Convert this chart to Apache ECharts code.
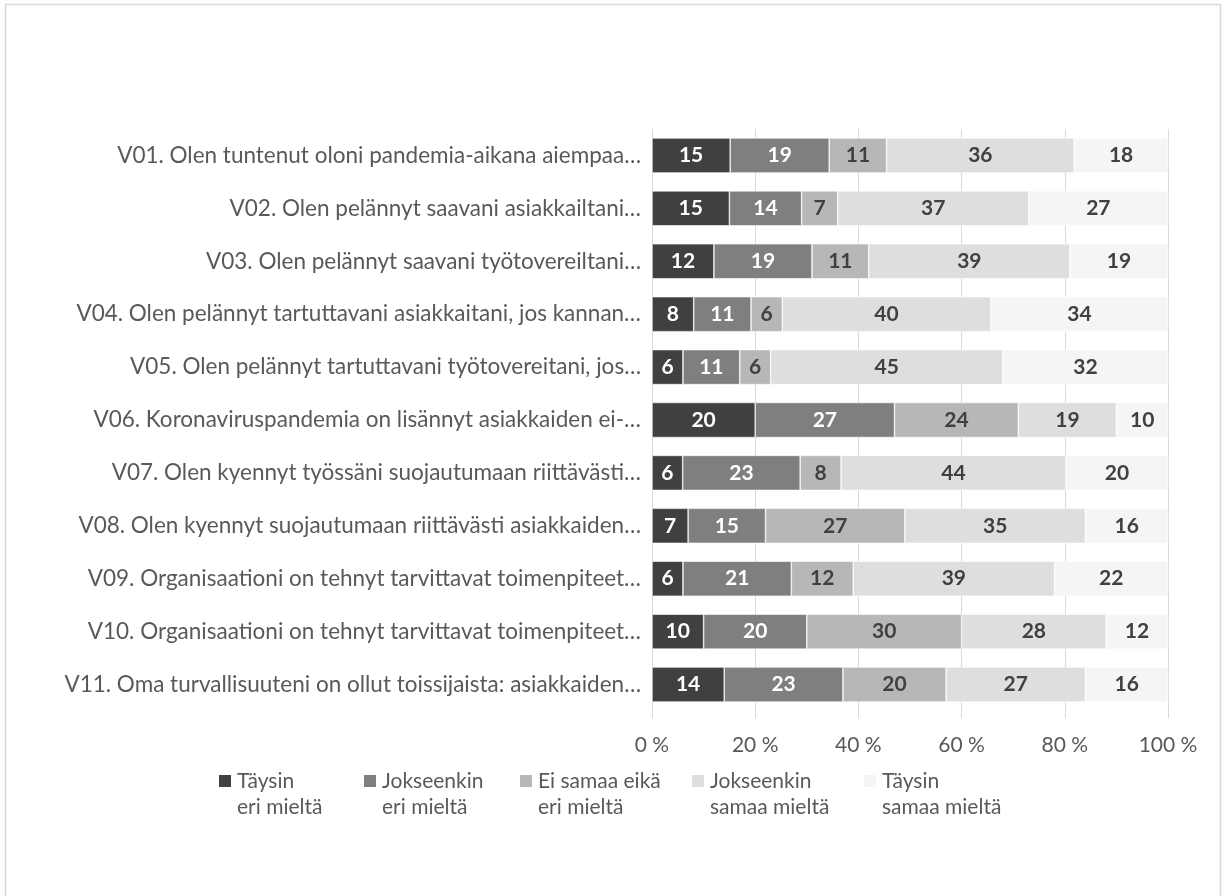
<!DOCTYPE html>
<html>
<head>
<meta charset="utf-8">
<script src="https://cdn.jsdelivr.net/npm/echarts@6/dist/echarts.min.js"></script>
<style>
  html, body { margin: 0; padding: 0; background: #ffffff; }
  #chart { width: 1224px; height: 896px; }
</style>
</head>
<body>
<div id="chart"></div>
<script>
// Survey statements (truncated as displayed)
const categories = [
  'V01. Olen tuntenut oloni pandemia-aikana aiempaa…',
  'V02. Olen pelännyt saavani asiakkailtani…',
  'V03. Olen pelännyt saavani työtovereiltani…',
  'V04. Olen pelännyt tartuttavani asiakkaitani, jos kannan…',
  'V05. Olen pelännyt tartuttavani työtovereitani, jos…',
  'V06. Koronaviruspandemia on lisännyt asiakkaiden ei-…',
  'V07. Olen kyennyt työssäni suojautumaan riittävästi…',
  'V08. Olen kyennyt suojautumaan riittävästi asiakkaiden…',
  'V09. Organisaationi on tehnyt tarvittavat toimenpiteet…',
  'V10. Organisaationi on tehnyt tarvittavat toimenpiteet…',
  'V11. Oma turvallisuuteni on ollut toissijaista: asiakkaiden…'
];

// Answer options
const seriesNames = [
  'Täysin\neri mieltä',
  'Jokseenkin\neri mieltä',
  'Ei samaa eikä\neri mieltä',
  'Jokseenkin\nsamaa mieltä',
  'Täysin\nsamaa mieltä'
];

// Response shares (%) per answer option, in category order
const taysinEri     = [15, 15, 12,  8,  6, 20,  6,  7,  6, 10, 14];
const jokseenkinEri = [19, 14, 19, 11, 11, 27, 23, 15, 21, 20, 23];
const eiSamaaEika   = [11,  7, 11,  6,  6, 24,  8, 27, 12, 30, 20];
const jokseenkinSam = [36, 37, 39, 40, 45, 19, 44, 35, 39, 28, 27];
const taysinSamaa   = [18, 27, 19, 34, 32, 10, 20, 16, 22, 12, 16];

// Axis tick labels
const xTicks = ['0 %', '20 %', '40 %', '60 %', '80 %', '100 %'];

const seriesValues = [taysinEri, jokseenkinEri, eiSamaaEika, jokseenkinSam, taysinSamaa];
const colors = ['#404040', '#7f7f7f', '#b7b7b7', '#dedede', '#f5f5f5'];
const labelColors = ['#ffffff', '#ffffff', '#404040', '#404040', '#404040'];
const legendLefts = [217, 362, 518, 690, 862];

const FONT = 'Lato, "Open Sans", sans-serif';

// Each bar fills 100 %: shares are scaled by their row total
const rowTotals = categories.map((_, i) => seriesValues.reduce((s, arr) => s + arr[i], 0));

// Legend marker: square at the top of a taller box so it sits beside the first text line
const legendIcon = 'path://M0,0L10,0L10,10L0,10Z M0,28.5L0.05,28.6L0,28.6Z';

const series = seriesValues.map((vals, k) => ({
  name: seriesNames[k],
  type: 'bar',
  stack: 'total',
  barWidth: 35,
  itemStyle: { color: colors[k], borderColor: '#ffffff', borderWidth: 0.6 },
  label: {
    show: true,
    position: 'inside',
    fontFamily: FONT,
    fontWeight: 'bold',
    fontSize: 21,
    color: labelColors[k],
    formatter: p => String(vals[p.dataIndex])
  },
  emphasis: { disabled: true },
  data: vals.map((v, i) => v / rowTotals[i] * 100)
}));

const legends = seriesNames.map((name, k) => ({
  data: [name],
  left: legendLefts[k],
  top: 768,
  orient: 'horizontal',
  icon: legendIcon,
  itemWidth: 14,
  itemHeight: 40,
  itemGap: 0,
  padding: 0,
  textStyle: {
    fontFamily: FONT,
    fontSize: 21,
    lineHeight: 26,
    color: '#595959'
  },
  selectedMode: false
}));

const chart = echarts.init(document.getElementById('chart'), null, { renderer: 'canvas' });
chart.setOption({
  backgroundColor: '#ffffff',
  animation: false,
  textStyle: { fontFamily: FONT },
  graphic: [{
    type: 'rect',
    shape: { x: 5.5, y: 4.5, width: 1215, height: 920 },
    style: { fill: null, stroke: '#d9d9d9', lineWidth: 1.5 },
    silent: true
  }],
  legend: legends,
  grid: { left: 652, right: 56, top: 129, bottom: 185, containLabel: false },
  xAxis: {
    type: 'value',
    min: 0,
    max: 100,
    interval: 20,
    axisLine: { show: false },
    axisTick: { show: true, length: 7, lineStyle: { color: '#d9d9d9', width: 1 } },
    splitLine: { show: true, lineStyle: { color: '#d9d9d9', width: 1 } },
    axisLabel: {
      fontFamily: FONT,
      fontSize: 21,
      color: '#595959',
      margin: 24,
      formatter: v => xTicks[Math.round(v / 20)]
    }
  },
  yAxis: {
    type: 'category',
    inverse: true,
    data: categories,
    axisLine: { show: false },
    axisTick: { show: false },
    splitLine: { show: false },
    axisLabel: {
      fontFamily: FONT,
      fontSize: 22.5,
      color: '#595959',
      margin: 11
    }
  },
  series: series
});
</script>
</body>
</html>
